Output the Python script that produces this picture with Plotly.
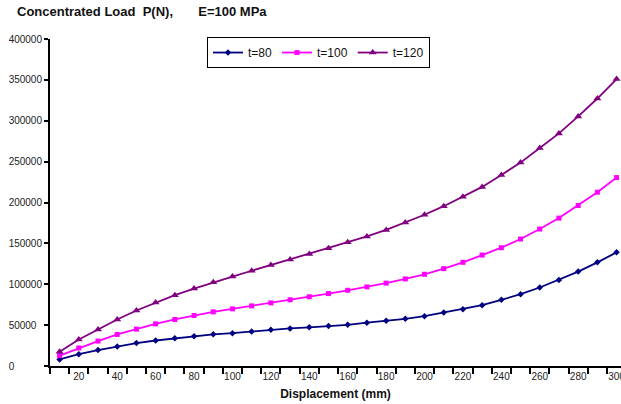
import plotly.graph_objects as go

displacement = [10, 20, 30, 40, 50, 60, 70, 80, 90, 100, 110, 120, 130, 140, 150,
                160, 170, 180, 190, 200, 210, 220, 230, 240, 250, 260, 270, 280, 290, 300]

load_t80 = [8000, 14500, 19500, 24000, 28000, 31200, 34000, 36500, 38800, 40200,
            42300, 44200, 46000, 47300, 48800, 50400, 53000, 55300, 57700, 61000,
            65500, 69500, 74400, 80900, 87800, 96000, 105300, 115500, 126800, 139000]

load_t100 = [12800, 22000, 30500, 38600, 45100, 51600, 56900, 61800, 66200, 69900,
             73500, 77200, 81000, 84700, 88600, 92600, 96800, 101400, 106500, 112200,
             119100, 126800, 135700, 144700, 155300, 167500, 180900, 196300, 212600, 230500]

load_t120 = [17500, 32500, 44700, 56900, 67900, 77700, 86600, 94700, 102400, 109400,
             116500, 123500, 130200, 137000, 144000, 151300, 158500, 166500, 175400, 185000,
             195500, 206900, 219100, 233700, 248800, 266700, 284500, 305300, 327200, 351000]

y_ticks = [0, 50000, 100000, 150000, 200000, 250000, 300000, 350000, 400000]
x_label_ticks = [20, 40, 60, 80, 100, 120, 140, 160, 180, 200, 220, 240, 260, 280, 300]

FONT = "Liberation Sans"
NBSP = "\u00a0"


def left_pad(v, width=6):
    s = str(v)
    return s + NBSP * (2 * (width - len(s)))


fig = go.Figure()
fig.add_trace(go.Scatter(x=displacement, y=load_t80, name="t=80", mode="lines+markers",
                         line=dict(color="#000080", width=1.8),
                         marker=dict(symbol="diamond", size=5, color="#000080")))
fig.add_trace(go.Scatter(x=displacement, y=load_t100, name="t=100", mode="lines+markers",
                         line=dict(color="#FF00FF", width=1.8),
                         marker=dict(symbol="square", size=5, color="#FF00FF")))
fig.add_trace(go.Scatter(x=displacement, y=load_t120, name="t=120", mode="lines+markers",
                         line=dict(color="#800080", width=1.8),
                         marker=dict(symbol="triangle-up", size=7, color="#800080")))

fig.update_layout(
    width=621, height=404,
    margin=dict(l=50, r=0, t=39, b=38),
    paper_bgcolor="white", plot_bgcolor="white",
    font=dict(family=FONT, size=10, color="#222"),
    title=dict(
        text="Concentrated Load" + NBSP * 2 + "P(N)," + NBSP * 7 + "E=100 MPa",
        font=dict(family=FONT, size=13, color="#111", weight="bold"),
        xref="container", yref="container",
        x=17 / 621, xanchor="left", y=1 - 11 / 404, yanchor="middle",
    ),
    showlegend=True,
    legend=dict(
        orientation="h", x=(207 - 50) / 571, xanchor="left", y=1.006, yanchor="top",
        bordercolor="black", borderwidth=1, bgcolor="white",
        font=dict(family=FONT, size=12, color="#111"),
        itemwidth=30, tracegroupgap=0,
    ),
)

fig.update_xaxes(
    range=[5, 302.3],
    showgrid=False, zeroline=False,
    showline=True, linecolor="black", linewidth=2,
    tickmode="array", tickvals=x_label_ticks, ticktext=[str(v) for v in x_label_ticks],
    ticks="outside", ticklen=0, tickcolor="rgba(0,0,0,0)",
    ticklabeloverflow="allow",
    tickfont=dict(family=FONT, size=10, color="#222"),
    minor=dict(tick0=5, dtick=10, ticks="outside", ticklen=6, tickwidth=1.5,
               tickcolor="black", showgrid=False),
    title=dict(text="<b>Displacement (mm)</b>",
               font=dict(family=FONT, size=12, color="#111"), standoff=9),
    automargin=False,
)

fig.update_yaxes(
    range=[0, 400000],
    showgrid=False, zeroline=False,
    showline=True, linecolor="black", linewidth=2,
    tickmode="array", tickvals=y_ticks, ticktext=[left_pad(v) for v in y_ticks],
    ticks="outside", ticklen=4, tickwidth=1.5, tickcolor="black",
    tickfont=dict(family=FONT, size=10, color="#222"),
    automargin=False,
)

fig.write_html("out.html", config={"displayModeBar": False},
               post_script="document.body.style.margin='0';")
